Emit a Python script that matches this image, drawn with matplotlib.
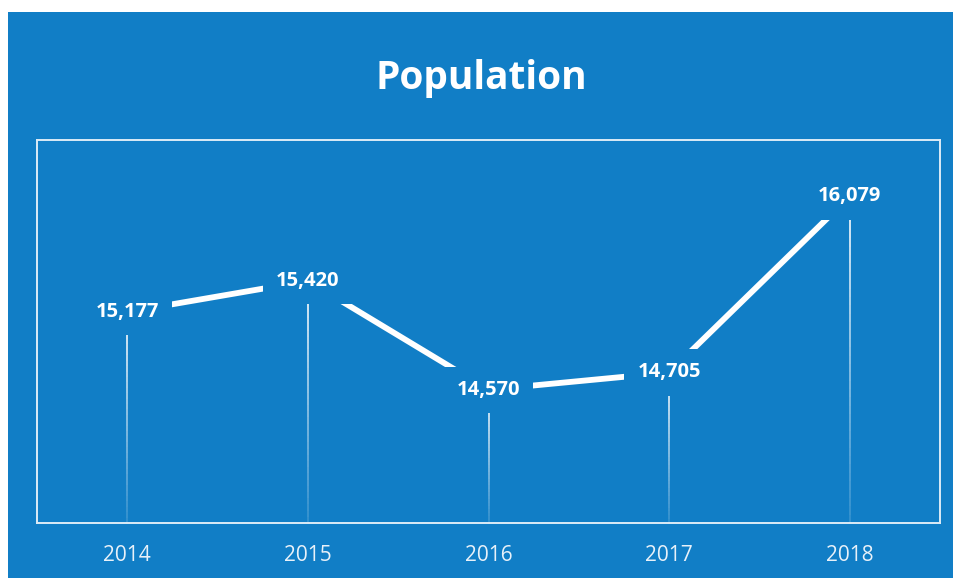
import numpy as np
import matplotlib
matplotlib.use("Agg")
import matplotlib.pyplot as plt
from matplotlib.patches import Rectangle
from matplotlib.collections import LineCollection

years = ["2014", "2015", "2016", "2017", "2018"]
population = [15177, 15420, 14570, 14705, 16079]
labels = ["15,177", "15,420", "14,570", "14,705", "16,079"]

BLUE = "#117ec6"
plt.rcParams["font.family"] = ["Open Sans", "DejaVu Sans"]

fig = plt.figure(figsize=(9.54, 5.78), dpi=100, facecolor="white")
# blue panel (white scan margin at top and left)
fig.patches.append(Rectangle((8 / 954, 0), 1, 1 - 12 / 578, transform=fig.transFigure,
                             facecolor=BLUE, edgecolor="none", zorder=-10))
fig.text(0.505, 0.865, "Population", ha="center", va="center", fontsize=28,
         fontweight="bold", color="white")

ax = fig.add_axes([37 / 954, 55 / 578, 903 / 954, 383 / 578])
ax.set_zorder(5)
ax.set_facecolor(BLUE)
for s in ax.spines.values():
    s.set_color("#dcebf7"); s.set_linewidth(1.4)

x = np.arange(len(years))
ymin, ymax = 13530, 16520
ax.set_xlim(-0.5, 4.5); ax.set_ylim(ymin, ymax)

# fading drop lines
for xi, v in zip(x, population):
    ys = np.linspace(v, ymin, 40)
    segs = [[(xi, ys[i]), (xi, ys[i + 1])] for i in range(len(ys) - 1)]
    alphas = np.linspace(0.95, 0.15, len(segs))
    cols = [(1, 1, 1, a) for a in alphas]
    ax.add_collection(LineCollection(segs, colors=cols, linewidths=1.3, zorder=1))

ax.plot(x, population, color="white", lw=4.2, solid_capstyle="butt", zorder=2)
for xi, v, lab in zip(x, population, labels):
    ax.text(xi, v, lab, ha="center", va="center", fontsize=14.5, fontweight="bold",
            color="white", zorder=3,
            bbox=dict(boxstyle="square,pad=0.65", fc=BLUE, ec="none"))

ax.set_xticks(x); ax.set_xticklabels(years)
ax.set_yticks([])
ax.tick_params(axis="x", length=0, pad=16, labelsize=15, labelcolor="#e8f1f9")

fig.savefig("out.png", dpi=100, facecolor=fig.get_facecolor())
